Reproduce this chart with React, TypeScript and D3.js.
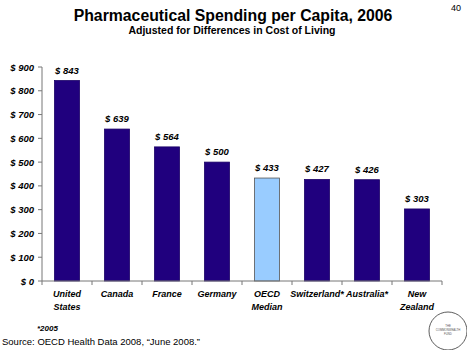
import * as d3 from 'd3';
import React from 'react';

// chart data
const countries = ['United|States', 'Canada', 'France', 'Germany', 'OECD|Median', 'Switzerland*', 'Australia*', 'New|Zealand'];
const spending = [843, 639, 564, 500, 433, 427, 426, 303];
const yTicks = [0, 100, 200, 300, 400, 500, 600, 700, 800, 900];
const highlight = 'OECD|Median';

const W = 467;
const H = 350;
const margin = { top: 67, right: 25, bottom: 69, left: 42 };
const font = 'Arial, "Liberation Sans", Helvetica, sans-serif';

const App = () => {
    const x = d3.scaleBand<string>()
        .domain(countries)
        .range([margin.left, W - margin.right])
        .paddingInner(0.5)
        .paddingOuter(0.25);
    const y = d3.scaleLinear()
        .domain([0, 900])
        .range([H - margin.bottom, margin.top]);

    const step = x.step();
    const x0 = margin.left;
    const x1 = W - margin.right;
    const yBase = y(0);

    return (
        <svg width={W} height={H} style={{ position: 'absolute', left: 0, top: 0, background: '#fff' }} fontFamily={font}>
            <text x={233} y={21} textAnchor="middle" fontSize={15.8} fontWeight="bold">Pharmaceutical Spending per Capita, 2006</text>
            <text x={232} y={34} textAnchor="middle" fontSize={10.5} fontWeight="bold">Adjusted for Differences in Cost of Living</text>
            <text x={456} y={11} textAnchor="middle" fontSize={9}>40</text>

            {/* y axis */}
            <line x1={x0} x2={x0} y1={y(900)} y2={yBase} stroke="#777" strokeWidth={1} />
            {yTicks.map(t => (
                <g key={t}>
                    <line x1={x0 - 4} x2={x0} y1={y(t)} y2={y(t)} stroke="#777" />
                    <text x={x0 - 8} y={y(t) + 3.5} textAnchor="end" fontSize={9.5} fontWeight="bold" fontStyle="italic">{'$ ' + t}</text>
                </g>
            ))}

            {/* bars */}
            {countries.map((c, i) => (
                <g key={c}>
                    <rect x={x(c)} y={y(spending[i])} width={x.bandwidth()} height={yBase - y(spending[i])}
                        fill={c === highlight ? '#99CCFF' : '#20007E'}
                        stroke={c === highlight ? '#555' : '#1a0066'} strokeWidth={0.8} />
                    <text x={(x(c) as number) + x.bandwidth() / 2} y={y(spending[i]) - 7} textAnchor="middle"
                        fontSize={9.5} fontWeight="bold" fontStyle="italic">{'$ ' + spending[i]}</text>
                    {c.split('|').map((line, j) => (
                        <text key={j} x={(x(c) as number) + x.bandwidth() / 2} y={yBase + 16 + j * 13} textAnchor="middle"
                            fontSize={9} fontWeight="bold" fontStyle="italic">{line}</text>
                    ))}
                </g>
            ))}

            {/* x axis */}
            <line x1={x0} x2={x1} y1={yBase} y2={yBase} stroke="#777" />
            {d3.range(countries.length + 1).map(i => (
                <line key={i} x1={x0 + i * step} x2={x0 + i * step} y1={yBase} y2={yBase + 4} stroke="#777" />
            ))}

            <text x={37} y={331} fontSize={8} fontWeight="bold" fontStyle="italic">*2005</text>
            <text x={2} y={345} fontSize={9.5}>Source: OECD Health Data 2008, “June 2008.”</text>

            {/* logo */}
            <circle cx={448} cy={331} r={19} fill="#fff" stroke="#333" strokeWidth={0.8} />
            <text x={448} y={327} textAnchor="middle" fontSize={2.8} fill="#555">THE</text>
            <text x={448} y={331} textAnchor="middle" fontSize={2.8} fill="#555">COMMONWEALTH</text>
            <text x={448} y={335} textAnchor="middle" fontSize={2.8} fill="#555">FUND</text>
        </svg>
    );
};

export default App;
